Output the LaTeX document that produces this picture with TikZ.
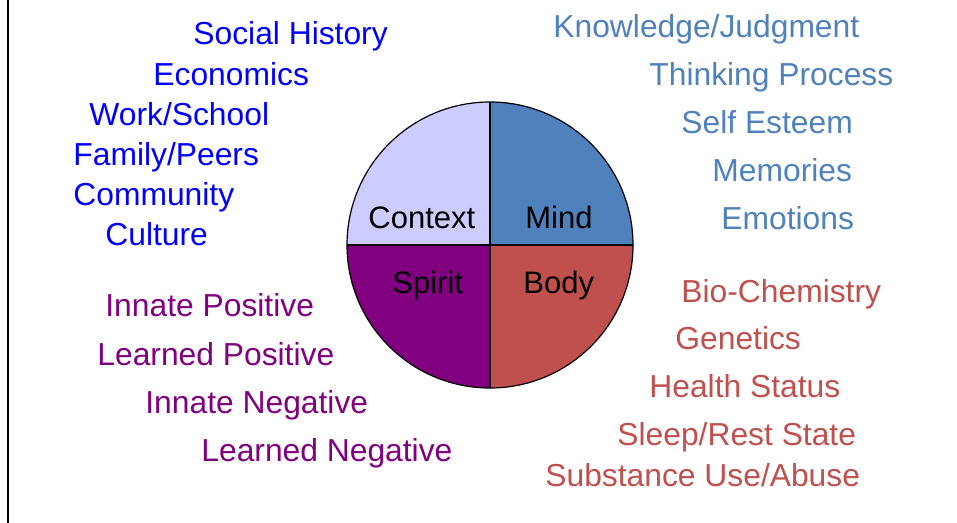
\documentclass[tikz,border=0pt]{standalone}
\usepackage{fontspec}
\setmainfont{Liberation Sans}
\definecolor{contextfill}{HTML}{CCCCFF}
\definecolor{mindcol}{HTML}{4F81BD}
\definecolor{bodycol}{HTML}{C0504D}
\definecolor{spiritcol}{HTML}{800080}
\definecolor{socialcol}{HTML}{0000FF}

\begin{document}
\begin{tikzpicture}[x=0.5pt, y=-0.5pt,
    lbl/.style={anchor=base west, inner sep=0pt, font=\fontsize{15.9}{19}\selectfont},
    part/.style={anchor=base west, inner sep=0pt, font=\fontsize{15.5}{18}\selectfont}]
  \useasboundingbox (0,0) rectangle (957,523);
  \coordinate (top) at (8,0);
  \coordinate (bot) at (8,523);
  \draw[line width=1pt] (top) -- (bot);

  % the wheel
  \coordinate (c) at (490,245);
  \begin{scope}
    \clip (c) circle (143);
    \fill[contextfill] (c) rectangle ++(-150,-150);
    \fill[mindcol]     (c) rectangle ++(150,-150);
    \fill[spiritcol]   (c) rectangle ++(-150,150);
    \fill[bodycol]     (c) rectangle ++(150,150);
  \end{scope}
  \coordinate (n) at (490,102);
  \coordinate (s) at (490,388);
  \coordinate (w) at (347,245);
  \coordinate (e) at (633,245);
  \draw[line width=0.6pt] (c) circle (143);
  \draw[line width=0.6pt] (n) -- (s) (w) -- (e);

  \node[part] (context) at (368,229) {Context};
  \node[part] (mind)    at (525,229) {Mind};
  \node[part] (spirit)  at (392,293.5) {Spirit};
  \node[part] (body)    at (523,293.5) {Body};

  % context list
  \foreach \x/\y/\t [count=\i] in {193/44.3/Social History, 153/85.5/Economics,
      89/125.5/Work\slash School, 73/165.5/Family\slash Peers,
      73/205.5/Community, 105/245.5/Culture}
    \node[lbl, text=socialcol] (ctx\i) at (\x,\y) {\t};

  % mind list
  \foreach \x/\y/\t [count=\i] in {553/37.7/Knowledge\slash Judgment, 649/85.5/Thinking Process,
      681/133.5/Self Esteem, 712/181.5/Memories, 721/229.5/Emotions}
    \node[lbl, text=mindcol] (mnd\i) at (\x,\y) {\t};

  % body list
  \foreach \x/\y/\t [count=\i] in {681/302.5/Bio-Chemistry, 675/349.5/Genetics,
      649/397.5/Health Status, 617/445.5/Sleep\slash Rest State,
      545/486/Substance Use\slash Abuse}
    \node[lbl, text=bodycol] (bdy\i) at (\x,\y) {\t};

  % spirit list
  \foreach \x/\y/\t [count=\i] in {105/316/Innate Positive, 97/365.5/Learned Positive,
      145/413.5/Innate Negative, 201/461.5/Learned Negative}
    \node[lbl, text=spiritcol] (spr\i) at (\x,\y) {\t};
\end{tikzpicture}
\end{document}
